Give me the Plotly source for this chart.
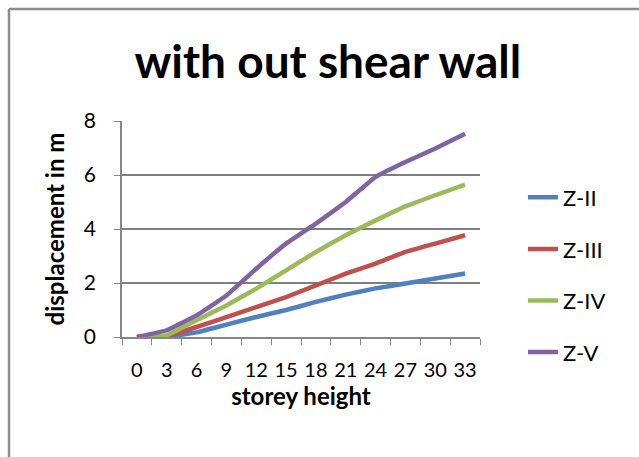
import plotly.graph_objects as go

# storey heights (category labels)
storey = ["0", "3", "6", "9", "12", "15", "18", "21", "24", "27", "30", "33"]

# lateral displacement (m) per seismic zone
z_ii = [0.0, 0.01, 0.17, 0.46, 0.74, 1.00, 1.30, 1.57, 1.80, 1.98, 2.17, 2.35]
z_iii = [0.0, 0.03, 0.37, 0.74, 1.11, 1.48, 1.91, 2.35, 2.72, 3.15, 3.46, 3.77]
z_iv = [0.0, 0.06, 0.62, 1.17, 1.79, 2.47, 3.15, 3.77, 4.32, 4.84, 5.25, 5.64]
z_v = [0.0, 0.25, 0.80, 1.54, 2.53, 3.46, 4.20, 5.00, 5.93, 6.48, 6.98, 7.53]

series = [
    ("Z-II", z_ii, "#4F81BD"),
    ("Z-III", z_iii, "#C0504D"),
    ("Z-IV", z_iv, "#9BBB59"),
    ("Z-V", z_v, "#8064A2"),
]

FONT = "Lato, 'Open Sans', sans-serif"
W, H = 639, 457
L, R, T, B = 122, 159, 121, 120

fig = go.Figure()
for name, vals, color in series:
    fig.add_trace(go.Scatter(
        x=storey, y=vals, name=name, mode="lines",
        legendgroup=name,
        line=dict(color=color, width=4.5, shape="spline", smoothing=0.2),
    ))

pw = W - L - R
ph = H - T - B
# outer chart border (left and top edges visible)
bx = (9 - L) / pw
by = (H - B - 9) / ph
fig.add_shape(type="line", xref="paper", yref="paper",
              x0=bx, x1=bx, y0=by, y1=-1.0,
              line=dict(color="#8c8c8c", width=2.5))
fig.add_shape(type="line", xref="paper", yref="paper",
              x0=bx, x1=2.0, y0=by, y1=by,
              line=dict(color="#8c8c8c", width=2.5))

fig.update_layout(
    width=W, height=H,
    margin=dict(l=L, r=R, t=T, b=B, autoexpand=False),
    paper_bgcolor="white", plot_bgcolor="white",
    font=dict(family=FONT, color="#000000", size=20),
    title=dict(text="<b>with out shear wall</b>", x=0.513, xanchor="center",
               y=1 - 62 / H, yanchor="middle",
               font=dict(size=46, family=FONT, color="#000000")),
    xaxis=dict(
        type="category", range=[-0.5, 11.5], tickson="boundaries",
        ticks="outside", ticklen=6, ticklabelstandoff=14, tickangle=0,
        tickcolor="#868686", showline=True, linecolor="#868686", linewidth=1.5,
        showgrid=False, tickfont=dict(size=20),
        title=dict(text="<b>storey height</b>", font=dict(size=24), standoff=8),
    ),
    yaxis=dict(
        range=[0, 8], dtick=2, ticks="outside", ticklen=6, tickcolor="#868686",
        ticklabelstandoff=14,
        showline=True, linecolor="#868686", linewidth=1.5,
        showgrid=True, gridcolor="#7f7f7f", gridwidth=1.5, zeroline=False,
        tickfont=dict(size=21),
        title=dict(text="<b>displacement in m</b>", font=dict(size=24), standoff=12),
    ),
    legend=dict(x=1.12, xanchor="left", y=0.287, yanchor="middle",
                font=dict(size=22), tracegroupgap=20,
                bgcolor="rgba(0,0,0,0)"),
    showlegend=True,
)

fig.write_html("out.html")
